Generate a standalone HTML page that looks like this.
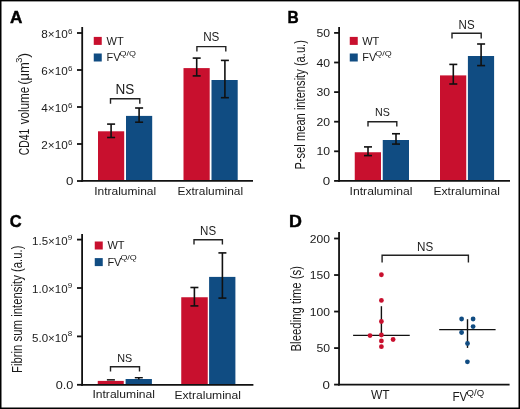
<!DOCTYPE html>
<html><head><meta charset="utf-8"><style>
html,body{margin:0;padding:0;background:#fff;}
svg{display:block;font-family:"Liberation Sans", sans-serif;will-change:transform;}
</style></head><body>
<svg width="520" height="409" viewBox="0 0 520 409">
<rect x="0" y="0" width="520" height="409" fill="#000"/>
<rect x="1.5" y="1.4" width="517" height="406.1" fill="#fff"/>
<text x="9.9" y="22.8" font-size="17.4" text-anchor="start" font-weight="bold" fill="#000" textLength="12.4" lengthAdjust="spacingAndGlyphs" stroke="#000" stroke-width="0.45">A</text>
<rect x="98.0" y="131.3" width="26.2" height="49.7" fill="#C8102E"/>
<rect x="126.0" y="115.9" width="26.2" height="65.1" fill="#104C82"/>
<rect x="183.5" y="68.1" width="26.2" height="112.9" fill="#C8102E"/>
<rect x="211.5" y="80.0" width="26.2" height="101.0" fill="#104C82"/>
<line x1="111.1" y1="124.1" x2="111.1" y2="137.5" stroke="#111" stroke-width="1.6"/>
<line x1="107.1" y1="124.1" x2="115.1" y2="124.1" stroke="#111" stroke-width="1.6"/>
<line x1="107.1" y1="137.5" x2="115.1" y2="137.5" stroke="#111" stroke-width="1.6"/>
<line x1="139.1" y1="108.0" x2="139.1" y2="122.2" stroke="#111" stroke-width="1.6"/>
<line x1="135.1" y1="108.0" x2="143.1" y2="108.0" stroke="#111" stroke-width="1.6"/>
<line x1="135.1" y1="122.2" x2="143.1" y2="122.2" stroke="#111" stroke-width="1.6"/>
<line x1="196.7" y1="58.1" x2="196.7" y2="75.9" stroke="#111" stroke-width="1.6"/>
<line x1="192.7" y1="58.1" x2="200.7" y2="58.1" stroke="#111" stroke-width="1.6"/>
<line x1="192.7" y1="75.9" x2="200.7" y2="75.9" stroke="#111" stroke-width="1.6"/>
<line x1="224.9" y1="60.4" x2="224.9" y2="97.7" stroke="#111" stroke-width="1.6"/>
<line x1="220.9" y1="60.4" x2="228.9" y2="60.4" stroke="#111" stroke-width="1.6"/>
<line x1="220.9" y1="97.7" x2="228.9" y2="97.7" stroke="#111" stroke-width="1.6"/>
<line x1="82.2" y1="27" x2="82.2" y2="181.75" stroke="#111" stroke-width="1.8"/>
<line x1="81.3" y1="180.85" x2="253" y2="180.85" stroke="#111" stroke-width="1.8"/>
<line x1="77.0" y1="33.0" x2="82.2" y2="33.0" stroke="#111" stroke-width="1.8"/>
<text x="41.3" y="38.4" font-size="11.5" fill="#1a1a1a" textLength="26.4" lengthAdjust="spacingAndGlyphs">8×10</text>
<text x="67.95" y="34.1" font-size="8" fill="#1a1a1a">6</text>
<line x1="77.0" y1="70.0" x2="82.2" y2="70.0" stroke="#111" stroke-width="1.8"/>
<text x="41.3" y="75.4" font-size="11.5" fill="#1a1a1a" textLength="26.4" lengthAdjust="spacingAndGlyphs">6×10</text>
<text x="67.95" y="71.1" font-size="8" fill="#1a1a1a">6</text>
<line x1="77.0" y1="107.0" x2="82.2" y2="107.0" stroke="#111" stroke-width="1.8"/>
<text x="41.3" y="112.4" font-size="11.5" fill="#1a1a1a" textLength="26.4" lengthAdjust="spacingAndGlyphs">4×10</text>
<text x="67.95" y="108.1" font-size="8" fill="#1a1a1a">6</text>
<line x1="77.0" y1="144.0" x2="82.2" y2="144.0" stroke="#111" stroke-width="1.8"/>
<text x="41.3" y="149.4" font-size="11.5" fill="#1a1a1a" textLength="26.4" lengthAdjust="spacingAndGlyphs">2×10</text>
<text x="67.95" y="145.1" font-size="8" fill="#1a1a1a">6</text>
<line x1="77.0" y1="181.0" x2="82.2" y2="181.0" stroke="#111" stroke-width="1.8"/>
<text x="65.9" y="185.1" font-size="11.4" text-anchor="start" font-weight="normal" fill="#1a1a1a" textLength="7.4" lengthAdjust="spacingAndGlyphs">0</text>
<polyline points="110.5,103.7 110.5,98.7 139.8,98.7 139.8,103.7" fill="none" stroke="#222" stroke-width="1.4"/>
<text x="115.6" y="93.7" font-size="14" text-anchor="start" font-weight="normal" fill="#1a1a1a" textLength="18.8" lengthAdjust="spacingAndGlyphs">NS</text>
<polyline points="196.9,51.5 196.9,46.6 225.8,46.6 225.8,51.5" fill="none" stroke="#222" stroke-width="1.4"/>
<text x="203.2" y="41.4" font-size="12" text-anchor="start" font-weight="normal" fill="#1a1a1a" textLength="16.2" lengthAdjust="spacingAndGlyphs">NS</text>
<rect x="93.75" y="36.9" width="8.0" height="8.0" fill="#C8102E"/>
<rect x="93.75" y="53.5" width="8.0" height="8.0" fill="#104C82"/>
<text x="106.6" y="44.8" font-size="11" text-anchor="start" font-weight="normal" fill="#1a1a1a">WT</text>
<text x="106.6" y="61.1" font-size="11" fill="#1a1a1a">FV</text>
<text x="119.6" y="55.5" font-size="7.8" fill="#1a1a1a" textLength="16.4" lengthAdjust="spacingAndGlyphs">Q/Q</text>
<text x="94.2" y="194.5" font-size="11.6" text-anchor="start" font-weight="normal" fill="#1a1a1a" textLength="62" lengthAdjust="spacingAndGlyphs">Intraluminal</text>
<text x="177.6" y="194.6" font-size="11.6" text-anchor="start" font-weight="normal" fill="#1a1a1a" textLength="65.5" lengthAdjust="spacingAndGlyphs">Extraluminal</text>
<g transform="translate(28.6,154.65) rotate(-90)" fill="#1a1a1a" font-size="14">
<text x="-0.6" y="0" font-size="14" textLength="26.45" lengthAdjust="spacingAndGlyphs">CD41</text>
<text x="30.3" y="0" font-size="14" textLength="37.6" lengthAdjust="spacingAndGlyphs">volume</text>
<text x="69.85" y="0" font-size="14" textLength="22.65" lengthAdjust="spacingAndGlyphs">(μm</text>
<text x="91.9" y="-6.3" font-size="9.5" textLength="5.2" lengthAdjust="spacingAndGlyphs">3</text>
<text x="96.85" y="0" font-size="14" textLength="4.9" lengthAdjust="spacingAndGlyphs">)</text>
</g>
<text x="287.6" y="23.0" font-size="17" text-anchor="start" font-weight="bold" fill="#000" textLength="11.2" lengthAdjust="spacingAndGlyphs" stroke="#000" stroke-width="0.45">B</text>
<rect x="354.75" y="152.25" width="26.25" height="28.65" fill="#C8102E"/>
<rect x="382.75" y="140.0" width="26.25" height="40.9" fill="#104C82"/>
<rect x="440.0" y="75.4" width="26.25" height="105.5" fill="#C8102E"/>
<rect x="467.9" y="56.0" width="26.2" height="124.9" fill="#104C82"/>
<line x1="368.0" y1="146.9" x2="368.0" y2="155.6" stroke="#111" stroke-width="1.6"/>
<line x1="364.0" y1="146.9" x2="372.0" y2="146.9" stroke="#111" stroke-width="1.6"/>
<line x1="364.0" y1="155.6" x2="372.0" y2="155.6" stroke="#111" stroke-width="1.6"/>
<line x1="396.0" y1="133.75" x2="396.0" y2="144.1" stroke="#111" stroke-width="1.6"/>
<line x1="392.0" y1="133.75" x2="400.0" y2="133.75" stroke="#111" stroke-width="1.6"/>
<line x1="392.0" y1="144.1" x2="400.0" y2="144.1" stroke="#111" stroke-width="1.6"/>
<line x1="453.3" y1="64.4" x2="453.3" y2="84.0" stroke="#111" stroke-width="1.6"/>
<line x1="449.3" y1="64.4" x2="457.3" y2="64.4" stroke="#111" stroke-width="1.6"/>
<line x1="449.3" y1="84.0" x2="457.3" y2="84.0" stroke="#111" stroke-width="1.6"/>
<line x1="481.1" y1="44.0" x2="481.1" y2="65.6" stroke="#111" stroke-width="1.6"/>
<line x1="477.1" y1="44.0" x2="485.1" y2="44.0" stroke="#111" stroke-width="1.6"/>
<line x1="477.1" y1="65.6" x2="485.1" y2="65.6" stroke="#111" stroke-width="1.6"/>
<line x1="339.1" y1="26.9" x2="339.1" y2="181.75" stroke="#111" stroke-width="1.8"/>
<line x1="338.2" y1="180.85" x2="510" y2="180.85" stroke="#111" stroke-width="1.8"/>
<line x1="334.1" y1="32.900000000000006" x2="339.1" y2="32.900000000000006" stroke="#111" stroke-width="1.8"/>
<text x="316.5" y="37.0" font-size="11.4" text-anchor="start" font-weight="normal" fill="#1a1a1a" textLength="13.6" lengthAdjust="spacingAndGlyphs">50</text>
<line x1="334.1" y1="62.5" x2="339.1" y2="62.5" stroke="#111" stroke-width="1.8"/>
<text x="316.5" y="66.6" font-size="11.4" text-anchor="start" font-weight="normal" fill="#1a1a1a" textLength="13.6" lengthAdjust="spacingAndGlyphs">40</text>
<line x1="334.1" y1="92.10000000000001" x2="339.1" y2="92.10000000000001" stroke="#111" stroke-width="1.8"/>
<text x="316.5" y="96.2" font-size="11.4" text-anchor="start" font-weight="normal" fill="#1a1a1a" textLength="13.6" lengthAdjust="spacingAndGlyphs">30</text>
<line x1="334.1" y1="121.7" x2="339.1" y2="121.7" stroke="#111" stroke-width="1.8"/>
<text x="316.5" y="125.8" font-size="11.4" text-anchor="start" font-weight="normal" fill="#1a1a1a" textLength="13.6" lengthAdjust="spacingAndGlyphs">20</text>
<line x1="334.1" y1="151.3" x2="339.1" y2="151.3" stroke="#111" stroke-width="1.8"/>
<text x="316.5" y="155.4" font-size="11.4" text-anchor="start" font-weight="normal" fill="#1a1a1a" textLength="13.6" lengthAdjust="spacingAndGlyphs">10</text>
<line x1="334.1" y1="180.9" x2="339.1" y2="180.9" stroke="#111" stroke-width="1.8"/>
<text x="322.7" y="185.0" font-size="11.4" text-anchor="start" font-weight="normal" fill="#1a1a1a" textLength="7.4" lengthAdjust="spacingAndGlyphs">0</text>
<polyline points="368.0,126.4 368.0,121.8 396.8,121.8 396.8,126.4" fill="none" stroke="#222" stroke-width="1.4"/>
<text x="375.1" y="116.2" font-size="11.2" text-anchor="start" font-weight="normal" fill="#1a1a1a" textLength="14.8" lengthAdjust="spacingAndGlyphs">NS</text>
<polyline points="452.0,38.5 452.0,33.2 481.2,33.2 481.2,38.5" fill="none" stroke="#222" stroke-width="1.4"/>
<text x="458.6" y="28.7" font-size="12" text-anchor="start" font-weight="normal" fill="#1a1a1a" textLength="16" lengthAdjust="spacingAndGlyphs">NS</text>
<rect x="349.75" y="36.9" width="8.0" height="8.0" fill="#C8102E"/>
<rect x="349.75" y="53.5" width="8.0" height="8.0" fill="#104C82"/>
<text x="362.2" y="44.8" font-size="11" text-anchor="start" font-weight="normal" fill="#1a1a1a">WT</text>
<text x="362.2" y="61.1" font-size="11" fill="#1a1a1a">FV</text>
<text x="375.2" y="55.5" font-size="7.8" fill="#1a1a1a" textLength="16.4" lengthAdjust="spacingAndGlyphs">Q/Q</text>
<text x="349.6" y="194.9" font-size="11.7" text-anchor="start" font-weight="normal" fill="#1a1a1a" textLength="62.8" lengthAdjust="spacingAndGlyphs">Intraluminal</text>
<text x="433.5" y="195.1" font-size="11.7" text-anchor="start" font-weight="normal" fill="#1a1a1a" textLength="66.5" lengthAdjust="spacingAndGlyphs">Extraluminal</text>
<text transform="translate(304.5,169.6) rotate(-90)" font-size="14" fill="#1a1a1a" textLength="129.5" lengthAdjust="spacingAndGlyphs">P-sel mean intensity (a.u.)</text>
<text x="9.8" y="227.1" font-size="17" text-anchor="start" font-weight="bold" fill="#000" textLength="11.9" lengthAdjust="spacingAndGlyphs" stroke="#000" stroke-width="0.45">C</text>
<rect x="97.75" y="380.9" width="26.0" height="3.7" fill="#C8102E"/>
<rect x="125.6" y="379.0" width="26.3" height="5.6" fill="#104C82"/>
<rect x="181.25" y="297.25" width="26.5" height="87.35" fill="#C8102E"/>
<rect x="209.1" y="276.9" width="26.3" height="107.7" fill="#104C82"/>
<line x1="106.9" y1="379.85" x2="114.9" y2="379.85" stroke="#111" stroke-width="1.5"/>
<line x1="134.8" y1="377.7" x2="142.8" y2="377.7" stroke="#111" stroke-width="1.4"/>
<line x1="138.8" y1="377.7" x2="138.8" y2="379.6" stroke="#111" stroke-width="1.6"/>
<line x1="194.4" y1="287.5" x2="194.4" y2="305.9" stroke="#111" stroke-width="1.6"/>
<line x1="190.4" y1="287.5" x2="198.4" y2="287.5" stroke="#111" stroke-width="1.6"/>
<line x1="190.4" y1="305.9" x2="198.4" y2="305.9" stroke="#111" stroke-width="1.6"/>
<line x1="222.4" y1="252.9" x2="222.4" y2="298.1" stroke="#111" stroke-width="1.6"/>
<line x1="218.4" y1="252.9" x2="226.4" y2="252.9" stroke="#111" stroke-width="1.6"/>
<line x1="218.4" y1="298.1" x2="226.4" y2="298.1" stroke="#111" stroke-width="1.6"/>
<line x1="82.1" y1="234" x2="82.1" y2="385.75" stroke="#111" stroke-width="1.8"/>
<line x1="81.2" y1="384.85" x2="253.4" y2="384.85" stroke="#111" stroke-width="1.8"/>
<line x1="77.0" y1="239.60000000000002" x2="82.1" y2="239.60000000000002" stroke="#111" stroke-width="1.8"/>
<text x="32.1" y="244.9" font-size="11.5" fill="#1a1a1a" textLength="35.5" lengthAdjust="spacingAndGlyphs">1.5×10</text>
<text x="67.85" y="239.6" font-size="8" fill="#1a1a1a">9</text>
<line x1="77.0" y1="288.0" x2="82.1" y2="288.0" stroke="#111" stroke-width="1.8"/>
<text x="32.1" y="293.3" font-size="11.5" fill="#1a1a1a" textLength="35.5" lengthAdjust="spacingAndGlyphs">1.0×10</text>
<text x="67.85" y="288.0" font-size="8" fill="#1a1a1a">9</text>
<line x1="77.0" y1="336.40000000000003" x2="82.1" y2="336.40000000000003" stroke="#111" stroke-width="1.8"/>
<text x="32.1" y="341.7" font-size="11.5" fill="#1a1a1a" textLength="35.5" lengthAdjust="spacingAndGlyphs">5.0×10</text>
<text x="67.85" y="336.4" font-size="8" fill="#1a1a1a">8</text>
<line x1="77.0" y1="384.8" x2="82.1" y2="384.8" stroke="#111" stroke-width="1.8"/>
<text x="55.8" y="388.9" font-size="11.4" text-anchor="start" font-weight="normal" fill="#1a1a1a" textLength="17.6" lengthAdjust="spacingAndGlyphs">0.0</text>
<polyline points="110.5,371.5 110.5,366.7 139.5,366.7 139.5,371.5" fill="none" stroke="#222" stroke-width="1.4"/>
<text x="117.3" y="361.5" font-size="11.5" text-anchor="start" font-weight="normal" fill="#1a1a1a" textLength="15" lengthAdjust="spacingAndGlyphs">NS</text>
<polyline points="194.0,244.6 194.0,239.7 222.4,239.7 222.4,244.6" fill="none" stroke="#222" stroke-width="1.4"/>
<text x="200.1" y="234.6" font-size="12" text-anchor="start" font-weight="normal" fill="#1a1a1a" textLength="16" lengthAdjust="spacingAndGlyphs">NS</text>
<rect x="94.75" y="241.5" width="8.0" height="8.0" fill="#C8102E"/>
<rect x="94.75" y="258.1" width="8.0" height="8.0" fill="#104C82"/>
<text x="107.4" y="249.4" font-size="11" text-anchor="start" font-weight="normal" fill="#1a1a1a">WT</text>
<text x="107.4" y="265.70000000000005" font-size="11" fill="#1a1a1a">FV</text>
<text x="120.4" y="260.1" font-size="7.8" fill="#1a1a1a" textLength="16.4" lengthAdjust="spacingAndGlyphs">Q/Q</text>
<text x="92.4" y="398.4" font-size="11.6" text-anchor="start" font-weight="normal" fill="#1a1a1a" textLength="62.6" lengthAdjust="spacingAndGlyphs">Intraluminal</text>
<text x="174.5" y="398.6" font-size="11.6" text-anchor="start" font-weight="normal" fill="#1a1a1a" textLength="66.5" lengthAdjust="spacingAndGlyphs">Extraluminal</text>
<text transform="translate(21.9,373.0) rotate(-90)" font-size="14.2" fill="#1a1a1a" textLength="127.5" lengthAdjust="spacingAndGlyphs">Fibrin sum intensity (a.u.)</text>
<text x="289.1" y="226.9" font-size="17" text-anchor="start" font-weight="bold" fill="#000" textLength="12.9" lengthAdjust="spacingAndGlyphs" stroke="#000" stroke-width="0.45">D</text>
<line x1="339.05" y1="231.9" x2="339.05" y2="385.6" stroke="#111" stroke-width="1.8"/>
<line x1="338.15" y1="384.7" x2="509.6" y2="384.7" stroke="#111" stroke-width="1.8"/>
<line x1="334.1" y1="238.50000000000003" x2="339.05" y2="238.50000000000003" stroke="#111" stroke-width="1.8"/>
<text x="309.8" y="242.6" font-size="11.4" text-anchor="start" font-weight="normal" fill="#1a1a1a" textLength="20.2" lengthAdjust="spacingAndGlyphs">200</text>
<line x1="334.1" y1="275.02500000000003" x2="339.05" y2="275.02500000000003" stroke="#111" stroke-width="1.8"/>
<text x="309.8" y="279.13" font-size="11.4" text-anchor="start" font-weight="normal" fill="#1a1a1a" textLength="20.2" lengthAdjust="spacingAndGlyphs">150</text>
<line x1="334.1" y1="311.55" x2="339.05" y2="311.55" stroke="#111" stroke-width="1.8"/>
<text x="309.8" y="315.65" font-size="11.4" text-anchor="start" font-weight="normal" fill="#1a1a1a" textLength="20.2" lengthAdjust="spacingAndGlyphs">100</text>
<line x1="334.1" y1="348.07500000000005" x2="339.05" y2="348.07500000000005" stroke="#111" stroke-width="1.8"/>
<text x="316.4" y="352.18" font-size="11.4" text-anchor="start" font-weight="normal" fill="#1a1a1a" textLength="13.6" lengthAdjust="spacingAndGlyphs">50</text>
<line x1="334.1" y1="384.6" x2="339.05" y2="384.6" stroke="#111" stroke-width="1.8"/>
<text x="322.6" y="388.7" font-size="11.4" text-anchor="start" font-weight="normal" fill="#1a1a1a" textLength="7.4" lengthAdjust="spacingAndGlyphs">0</text>
<line x1="353.1" y1="335.4" x2="409.75" y2="335.4" stroke="#111" stroke-width="1.4"/>
<line x1="381.4" y1="306.2" x2="381.4" y2="335.4" stroke="#111" stroke-width="1.4"/>
<circle cx="381.4" cy="274.75" r="2.4" fill="#C8102E"/>
<circle cx="381.4" cy="300.4" r="2.4" fill="#C8102E"/>
<circle cx="381.4" cy="321.5" r="2.4" fill="#C8102E"/>
<circle cx="381.4" cy="335.0" r="2.4" fill="#C8102E"/>
<circle cx="370.0" cy="335.6" r="2.4" fill="#C8102E"/>
<circle cx="393.1" cy="339.5" r="2.4" fill="#C8102E"/>
<circle cx="381.4" cy="340.9" r="2.4" fill="#C8102E"/>
<circle cx="381.4" cy="346.7" r="2.4" fill="#C8102E"/>
<line x1="439.2" y1="329.6" x2="495.6" y2="329.6" stroke="#111" stroke-width="1.4"/>
<line x1="467.5" y1="319.2" x2="467.5" y2="347.9" stroke="#111" stroke-width="1.4"/>
<circle cx="461.6" cy="319.0" r="2.4" fill="#104C82"/>
<circle cx="473.1" cy="319.0" r="2.4" fill="#104C82"/>
<circle cx="473.1" cy="326.6" r="2.4" fill="#104C82"/>
<circle cx="461.6" cy="332.5" r="2.4" fill="#104C82"/>
<circle cx="467.5" cy="343.5" r="2.4" fill="#104C82"/>
<circle cx="467.4" cy="361.8" r="2.4" fill="#104C82"/>
<polyline points="382.1,262.4 382.1,255.2 468.4,255.2 468.4,262.4" fill="none" stroke="#222" stroke-width="1.4"/>
<text x="417.1" y="251.0" font-size="12" text-anchor="start" font-weight="normal" fill="#1a1a1a" textLength="16.2" lengthAdjust="spacingAndGlyphs">NS</text>
<text x="370.9" y="398.7" font-size="12.1" text-anchor="start" font-weight="normal" fill="#1a1a1a" textLength="18.6" lengthAdjust="spacingAndGlyphs">WT</text>
<text x="452.4" y="400.6" font-size="12" fill="#1a1a1a" textLength="15" lengthAdjust="spacingAndGlyphs">FV</text>
<text x="466.6" y="395.7" font-size="8.4" fill="#1a1a1a" textLength="17.6" lengthAdjust="spacingAndGlyphs">Q/Q</text>
<text transform="translate(300.9,351.5) rotate(-90)" font-size="14" fill="#1a1a1a" textLength="85.5" lengthAdjust="spacingAndGlyphs">Bleeding time (s)</text>
</svg>
</body></html>
